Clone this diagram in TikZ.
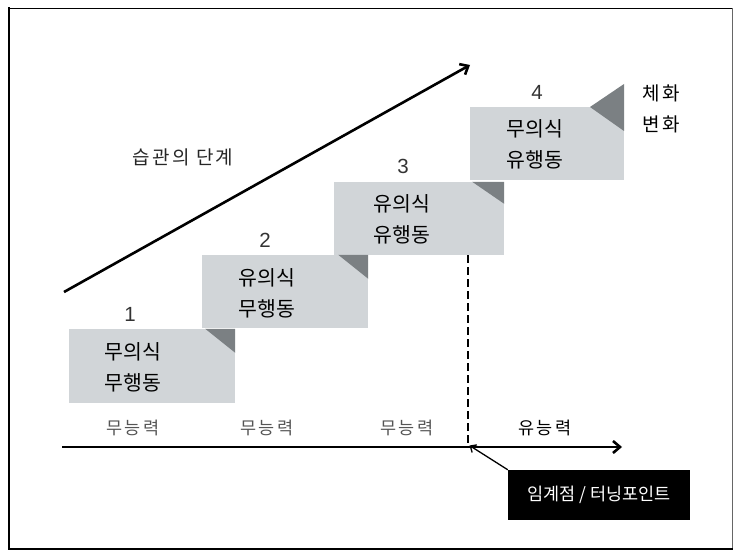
\documentclass[tikz,border=0pt]{standalone}
\usepackage{fontspec}
\setmainfont{Noto Sans CJK KR}
\newfontfamily\spacedfont[LetterSpace=12]{Noto Sans CJK KR}
\newfontfamily\numfont{Liberation Sans}
\usetikzlibrary{arrows.meta}
\definecolor{boxfill}{HTML}{D1D5D8}
\definecolor{cornerc}{HTML}{7B8083}
\definecolor{labgray}{HTML}{555555}
\tikzset{
  stepbox/.style={fill=boxfill, draw=none, inner sep=0pt},
  boxtext/.style={align=center, font=\fontsize{20.5}{31}\selectfont, text=black, inner sep=0pt},
  numtext/.style={font=\numfont\fontsize{20.5}{24}\selectfont, text=black!80, inner sep=0pt},
  abilitytext/.style={font=\spacedfont\fontsize{17.5}{20}\selectfont, text=labgray, inner sep=0pt},
  thickarrow/.style={line width=2.6pt, -{Straight Barb[length=7pt,width=12pt,line width=2.6pt]}},
}
\begin{document}
\begin{tikzpicture}[x=1pt,y=-1pt]
\useasboundingbox (0,0) rectangle (739,553);
% frame
\coordinate (fnw) at (9,8.5);
\coordinate (fne) at (732,8.5);
\coordinate (fsw) at (9,549);
\coordinate (fse) at (732,549);
\draw[line width=1pt, black!60] (fne) -- (fse);
\draw[line width=1.3pt, black] (fnw) -- (fne);
\draw[line width=2pt, black, line cap=rect] (fnw) -- (fsw) -- (fse);

% boxes
\node[stepbox, minimum width=166pt, minimum height=74pt] (b1) at (152,366) {};
\node[stepbox, minimum width=166pt, minimum height=73pt] (b2) at (285,291.5) {};
\node[stepbox, minimum width=170pt, minimum height=73pt] (b3) at (419,218.5) {};
\node[stepbox, minimum width=154pt, minimum height=73pt] (b4) at (547,143.5) {};

% corner triangles
\fill[cornerc] (b1.north east) ++(-30,0) -- (b1.north east) -- ++(0,24) -- cycle;
\fill[cornerc] (b2.north east) ++(-30,0) -- (b2.north east) -- ++(0,24) -- cycle;
\fill[cornerc] (b3.north east) ++(-32,0) -- (b3.north east) -- ++(0,22) -- cycle;
\fill[cornerc] (590,107) -- (624,84) -- (624,131) -- cycle;

% box texts
\node[boxtext] (t1) at (133,367) {무의식\\무행동};
\node[boxtext] (t2) at (267,293) {유의식\\무행동};
\node[boxtext] (t3) at (402,219) {유의식\\유행동};
\node[boxtext] (t4) at (535,144) {무의식\\유행동};

% numbers
\node[numtext] (n1) at (130,314) {1};
\node[numtext] (n2) at (265,240) {2};
\node[numtext] (n3) at (403,166) {3};
\node[numtext] (n4) at (537,92) {4};

% side text
\node[boxtext, font=\spacedfont\fontsize{19}{31}\selectfont] (side) at (661,109) {체화\\변화};

% big arrow
\coordinate (bs) at (64,292);
\coordinate (be) at (470,65);
\draw[thickarrow] (bs) -- (be);
\node[font=\spacedfont\fontsize{19}{22}\selectfont, text=black!85, inner sep=0pt] (title) at (183,157) {습관의 단계};

% axis
\coordinate (as) at (62,447);
\coordinate (ae) at (622,447);
\draw[thickarrow] (as) -- (ae);

\node[abilitytext] (a1) at (133,428) {무능력};
\node[abilitytext] (a2) at (267,428) {무능력};
\node[abilitytext] (a3) at (407,428) {무능력};
\node[abilitytext, text=black] (a4) at (545,428) {유능력};

% dashed line
\coordinate (tp) at (468,447);
\draw[line width=1.3pt, dash pattern=on 8pt off 4pt] (b3.south -| tp) -- (tp);

% critical point box
\node[fill=black, text=white, minimum width=182pt, minimum height=50pt, inner sep=0pt,
      font=\fontsize{17.5}{20}\selectfont] (crit) at (599,495) {임계점 / 터닝포인트};
\draw[line width=1.3pt, -{Straight Barb[length=5pt,width=9pt,line width=1.3pt]}] (crit.north west) -- ([xshift=1.5pt,yshift=1.5pt]tp);
\end{tikzpicture}
\end{document}
